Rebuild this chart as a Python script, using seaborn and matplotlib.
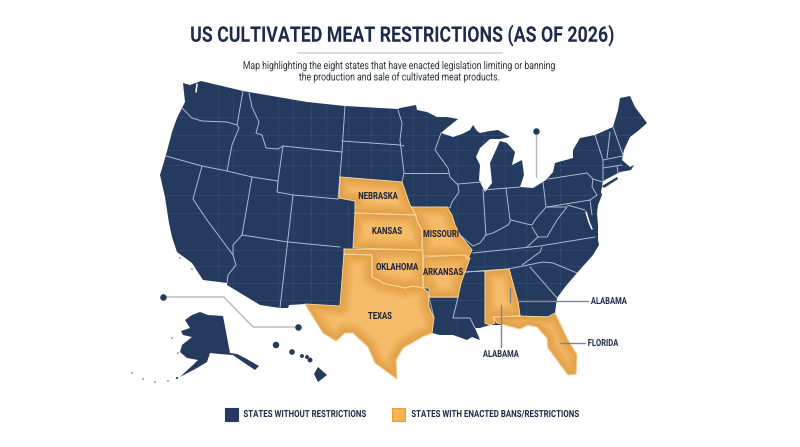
# coding: utf8
import matplotlib
matplotlib.use("Agg")
import matplotlib.pyplot as plt
from matplotlib.patches import Rectangle
from matplotlib.patheffects import AbstractPathEffect
from matplotlib.transforms import Affine2D
import seaborn as sns
import pandas as pd

us_outline = [(201,81),(243,91),(307,102),(345,106),(398,109),(400,108),(416,105),(417,110),(427,112),(437,117),
    (447,117),(458,119),(448,127),(441,133),(453,137),(462,134),(470,130),(473,125),(477,131),(480,133),(490,131),
    (498,130),(510,137),(500,139),(490,139),(480,148),(476,157),(480,165),(479,180),(485,192),(492,183),(490,163),
    (495,152),(500,141),(507,143),(515,152),(512,165),(522,160),(524,175),(520,187),(533,188),(546,180),(553,172),
    (555,163),(573,158),(573,150),(580,138),(595,135),(613,127),(618,110),(620,98),(630,96),(635,107),(647,123),
    (638,131),(630,137),(624,150),(622,160),(630,167),(634,165),(631,170),(620,172),(603,181),(601,192),(602,195),
    (598,205),(597,213),(598,225),(598,240),(599,245),(593,255),(585,264),(577,273),(565,287),(557,298),(555,313),
    (568,340),(577,355),(576,374),(568,375),(548,348),(547,338),(537,327),(528,325),(520,329),(505,325),(490,325),
    (480,328),(475,328),(480,340),(472,337),(467,340),(453,335),(440,335),(432,333),(422,337),(403,348),(396,360),
    (397,379),(375,363),(368,347),(353,333),(345,333),(336,341),(323,333),(318,325),(305,304),(289,305),(288,308),
    (280,308),(260,305),(227,285),(227,283),(203,280),(192,263),(177,252),(172,237),(169,223),(165,197),(160,175),
    (166,155),(172,132),(177,118),(182,108),(185,102),(183,83),(190,85)]
long_island = [(602,186),(617,177),(618,179),(604,188)]
alaska = [(200,312),(208,315),(223,316),(230,353),(237,354),(245,358),(259,366),(255,370),(243,362),(233,355),
    (219,354),(210,353),(207,362),(197,368),(180,377),(195,363),(198,360),(187,358),(180,352),(182,345),(192,337),
    (183,335),(181,331),(190,328),(185,320),(192,315)]
hawaii_big = [(318,367),(327,375),(318,382),(314,374)]
islands_x = [276,292,302,310,307,132,143,155,168,177,172,178,180,192]
islands_y = [345,352,356,360,357,373,379,382,381,378,338,353,258,269]
islands_s = [16,12,6,9,6,1,1,1,1,2,1,1,1,1]

nebraska = [(340,177),(390,181),(402,182),(410,205),(416,215),(355,213),(355,201),(339,198)]
kansas = [(355,213),(416,215),(417,222),(422,230),(422,250),(353,248)]
missouri = [(412,207),(447,207),(452,215),(455,225),(460,235),(472,250),(467,260),(465,255),(423,256),(422,230),(417,220)]
oklahoma = [(344,249),(422,250),(423,256),(423,288),(413,286),(405,288),(397,286),(390,285),(383,283),(378,280),(372,277),(372,255),(344,254)]
arkansas = [(423,257),(465,255),(470,258),(465,272),(461,283),(458,297),(429,297),(429,288),(423,288)]
texas = [(344,254),(372,255),(372,277),(378,280),(383,283),(390,285),(397,286),(405,288),(413,286),(423,288),(428,292),
    (429,307),(434,318),(432,333),(422,337),(403,348),(396,360),(397,379),(375,363),(368,347),(353,333),(345,333),
    (336,341),(323,333),(318,325),(305,304),(340,306)]
alabama = [(485,271),(509,269),(518,302),(520,316),(493,317),(495,323),(490,325),(485,323)]
florida = [(493,317),(520,316),(548,317),(555,313),(568,340),(577,355),(576,374),(568,375),(548,348),(547,338),
    (537,327),(528,325),(520,329),(505,325),(497,323)]
ban_states = [nebraska, kansas, missouri, oklahoma, arkansas, texas, alabama, florida]

state_labels = ["NEBRASKA", "KANSAS", "MISSOURI", "OKLAHOMA", "ARKANSAS", "TEXAS"]
label_x = [378, 387, 441, 397, 443, 380]
label_y = [196, 231, 234, 267, 272, 316]

borders = [
    [(182,108),(192,118),(202,121),(227,122),(237,125)],
    [(243,91),(237,125),(239,128),(232,145),(227,171)],
    [(166,156),(202,166),(227,171),(252,177),(278,181),(277,192),(293,195),(338,199)],
    [(202,166),(193,199),(207,220),(233,255),(236,265),(228,275),(227,283)],
    [(233,255),(233,245),(242,235),(252,177)],
    [(242,235),(288,242),(340,247)],
    [(293,195),(280,308)],
    [(278,181),(283,146),(342,152),(345,106)],
    [(342,152),(338,199)],
    [(249,93),(252,107),(259,122),(256,133),(262,135),(266,148),(278,149),(283,146)],
    [(342,141),(400,145),(404,146)],
    [(398,110),(402,123),(400,140),(404,173),(402,182)],
    [(404,173),(448,173)],
    [(441,133),(435,150),(448,168),(450,177),(458,185),(459,192),(452,202),(450,208),(447,207)],
    [(458,184),(482,182)],
    [(483,190),(486,235)],
    [(483,190),(520,187)],
    [(506,188),(510,220)],
    [(543,182),(546,207),(535,220),(532,225),(527,224),(511,220),(508,225),(493,233),(486,235),(480,243),(473,246),(460,235)],
    [(548,179),(587,173),(593,179),(592,187),(597,195),(590,200),(547,207)],
    [(593,179),(603,182)],
    [(595,135),(603,160),(603,180)],
    [(610,132),(607,158)],
    [(613,127),(623,155)],
    [(603,160),(623,156)],
    [(603,168),(622,165)],
    [(617,166),(618,173)],
    [(473,253),(540,246),(595,237)],
    [(532,227),(538,237),(547,237),(557,220),(567,207),(547,207)],
    [(538,237),(527,247)],
    [(567,205),(585,210)],
    [(590,200),(592,215)],
    [(465,272),(508,269),(543,262),(553,263),(577,273)],
    [(542,247),(540,252),(522,265)],
    [(530,267),(557,298)],
    [(458,297),(453,318),(470,318),(475,328)],
    [(458,297),(429,297),(434,318)],
    [(485,271),(465,272)],
    [(485,271),(485,323)],
    [(509,269),(518,302),(520,317),(548,317)],
]
water_lines = [
    [(197,84),(196,92)],
    [(586,212),(589,222),(592,229)],
]
grid_x = [218,233,278,293,311,326,348,371,390,413,426,457,484,505,526,560]
grid_y = [117,135,150,165,195,213,250,266,283,300]

dark_leaders = {"left": [(163,297),(224,297),(253,327),(298,327)], "lakes": [(536,131),(536,177)]}
leader_dots_x = [163, 298, 536]
leader_dots_y = [297, 327, 131]
callouts = [[(510,288),(510,302)], [(518,301),(588,301)], [(501,305),(501,347)], [(560,343),(585,343)]]
callout_names = ["ALABAMA", "ALABAMA", "FLORIDA"]
callout_x = [609, 501, 603]
callout_y = [301, 354, 343]

legend_names = ["STATES WITHOUT RESTRICTIONS", "STATES WITH ENACTED BANS/RESTRICTIONS"]
legend_swatch_x = [224.5, 391.5]
legend_text_x = [305, 495.5]

NAVY = "#243a5e"
ORANGE = "#f6bb68"
INK = "#1d2b4a"


class Squeeze(AbstractPathEffect):
    """roboto has no condensed cut here, so narrow the glyph outlines when drawing"""
    def __init__(self, sx):
        super().__init__()
        self.sx = sx

    def draw_path(self, renderer, gc, tpath, affine, rgbFace=None):
        renderer.draw_path(gc, tpath, Affine2D().scale(self.sx, 1) + affine, rgbFace)


def narrow_text(ax, x, y, s, size, color=INK, weight="bold", sx=0.78, zorder=8):
    """text centred on x, y once it is squeezed"""
    t = ax.text(x, y, s, ha="left", va="center", fontsize=size, fontweight=weight, color=color, zorder=zorder)
    width = t.get_window_extent(ax.figure.canvas.get_renderer()).width
    t.set_x(x - width * sx / 2)
    t.set_path_effects([Squeeze(sx)])
    return t


def lines_frame(segments):
    """long table with one unit per polyline"""
    rows = []
    for i, seg in enumerate(segments):
        for n, (x, y) in enumerate(seg):
            rows.append({"unit": i, "order": n, "x": x, "y": y})
    return pd.DataFrame(rows)


def draw_lines(ax, segments, color, lw):
    sns.lineplot(data=lines_frame(segments), x="x", y="y", units="unit", estimator=None, sort=False,
                 color=color, lw=lw, ax=ax, legend=False)


def fill_state(ax, pts):
    xs, ys = zip(*pts)
    patch = ax.fill(xs, ys, color=ORANGE, lw=0, zorder=4)[0]
    # darker rim fading inwards
    for lw in range(16, 0, -2):
        rim, = ax.plot(xs + xs[:1], ys + ys[:1], color="#c8791a", lw=lw, alpha=0.055, zorder=5)
        rim.set_clip_path(patch)
    ax.plot(xs + xs[:1], ys + ys[:1], color="#f7d496", lw=0.7, zorder=6)


sns.set_theme(style="white")
plt.rcParams["font.family"] = ["Roboto", "DejaVu Sans"]
fig = plt.figure(figsize=(8, 4.47), dpi=100)
ax = fig.add_axes([0, 0, 1, 1])
ax.set_xlim(0, 800)
ax.set_ylim(447, 0)
ax.axis("off")

xs, ys = zip(*us_outline)
us_patch = ax.fill(xs, ys, color=NAVY, lw=0)[0]
for shape in [long_island, alaska, hawaii_big]:
    sx, sy = zip(*shape)
    ax.fill(sx, sy, color=NAVY, lw=0)
sns.scatterplot(x=islands_x, y=islands_y, size=islands_s, sizes=(1, 22), color=NAVY, linewidth=0, legend=False, ax=ax)

for gx in grid_x:
    ax.axvline(gx, color="#4a6288", lw=0.5, alpha=0.45).set_clip_path(us_patch)
for gy in grid_y:
    ax.axhline(gy, color="#4a6288", lw=0.5, alpha=0.45).set_clip_path(us_patch)

draw_lines(ax, borders, "#aebcd2", 0.7)
draw_lines(ax, water_lines, "white", 1.1)

for state in ban_states:
    fill_state(ax, state)

for name, x, y in zip(state_labels, label_x, label_y):
    narrow_text(ax, x, y, name, 7.1, color="#1a2238")

draw_lines(ax, list(dark_leaders.values()), "#b5b8bd", 1.0)
sns.scatterplot(x=leader_dots_x, y=leader_dots_y, s=22, color=NAVY, linewidth=0, ax=ax, zorder=9)
draw_lines(ax, callouts, "#7f8694", 1.0)
for line in ax.lines[-len(callouts):]:
    line.set_zorder(7)
for name, x, y in zip(callout_names, callout_x, callout_y):
    narrow_text(ax, x, y, name, 7)

narrow_text(ax, 402, 35.5, "US CULTIVATED MEAT RESTRICTIONS (AS OF 2026)", 15.5, sx=0.825)
ax.plot([298, 502], [53, 53], color="#d9d9d9", lw=1.3)
narrow_text(ax, 400, 66, "Map highlighting the eight states that have enacted legislation limiting or banning",
            7.8, color="#2c3038", weight="normal", sx=0.8)
narrow_text(ax, 400, 77, "the production and sale of cultivated meat products.",
            7.8, color="#2c3038", weight="normal", sx=0.8)

swatch_colors = [NAVY, "#f6b454"]
swatch_edges = [NAVY, "#e39f3f"]
for name, sw_x, tx_x, fc, ec in zip(legend_names, legend_swatch_x, legend_text_x, swatch_colors, swatch_edges):
    ax.add_patch(Rectangle((sw_x, 408), 13, 13, facecolor=fc, edgecolor=ec, lw=0.8))
    narrow_text(ax, tx_x, 414, name, 7, sx=0.81)

fig.savefig("out.png", dpi=100)
